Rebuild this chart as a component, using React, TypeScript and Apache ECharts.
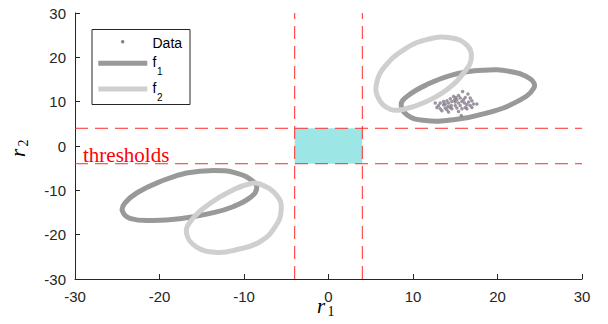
import React, { useEffect, useRef } from 'react';
import * as echarts from 'echarts';

const axisMin = -30;
const axisMax = 30;
const axisInterval = 10;
const thresholdValues = [-4, 4];

const f1LowerCurve = [
  [-13.6, -5.5], [-10.9, -6.1], [-8.9, -8.0], [-8.5, -9.6], [-9.1, -11.4], [-11.3, -13.7],
  [-14.0, -15.2], [-17.2, -16.3], [-20.7, -16.8], [-23.5, -16.3], [-24.4, -14.6], [-24.1, -12.9],
  [-22.7, -10.6], [-19.9, -8.0], [-16.8, -6.1],
];
const f2LowerCurve = [
  [-8.1, -8.6], [-6.1, -11.2], [-5.6, -14.4], [-6.3, -18.2], [-8.1, -21.6], [-10.9, -23.4],
  [-13.2, -24.0], [-15.6, -22.8], [-16.8, -19.7], [-16.2, -16.7], [-14.0, -12.9], [-11.3, -9.9],
  [-9.3, -8.5],
];
const f1UpperCurve = [
  [14.8, 5.9], [18.7, 7.4], [22.3, 10.0], [24.3, 13.1], [23.9, 15.1], [21.5, 16.8],
  [18.3, 17.1], [14.8, 16.1], [11.6, 13.8], [9.3, 11.2], [8.6, 9.3], [9.3, 7.0], [11.2, 5.8],
];
const f2UpperCurve = [
  [14.4, 24.4], [16.4, 22.7], [16.9, 19.8], [16.0, 16.5], [14.0, 12.7], [11.2, 9.7],
  [8.9, 8.3], [7.3, 8.3], [5.9, 10.8], [5.7, 14.2], [6.7, 18.0], [8.9, 21.7], [11.6, 24.0],
];
const dataPoints = [
  [15.87, 12.31], [16.5, 11.71], [14.8, 11.19], [15.39, 11.41], [16.18, 10.96], [16.77, 10.81],
  [16.97, 10.21], [15.19, 10.43], [15.59, 10.81], [14.41, 10.66], [14.01, 10.21], [13.62, 10.06],
  [13.22, 9.68], [12.63, 9.68], [13.02, 9.15], [13.62, 9.3], [14.21, 9.68], [14.6, 10.06],
  [15.0, 9.91], [15.39, 9.68], [15.79, 10.06], [16.1, 9.68], [16.38, 9.3], [16.58, 9.91],
  [17.17, 9.45], [17.56, 9.45], [16.97, 8.7], [16.18, 8.7], [15.59, 9.15], [15.0, 9.15],
  [14.52, 9.15], [14.13, 8.93], [13.81, 8.55], [13.22, 8.4], [12.83, 8.7], [13.42, 7.95],
  [14.01, 8.17], [14.6, 8.4], [15.19, 8.55], [15.79, 8.4], [16.38, 8.4], [15.39, 7.8],
  [14.21, 7.65], [15.71, 6.89], [14.92, 10.43], [13.81, 9.45], [14.41, 8.7], [15.98, 10.43],
  [16.77, 9.15], [15.08, 10.96],
];

const F1_COLOR = '#999999';
const F2_COLOR = '#cfcfcf';
const DATA_COLOR = '#857a8a';
const RED = '#ff2a2a';
const AXIS_COLOR = '#262626';

export default function App() {
  const ref = useRef<HTMLDivElement>(null);
  useEffect(() => {
    const chart = echarts.init(ref.current!, null, { renderer: 'svg' });
    const [tLow, tHigh] = thresholdValues;

    const axisCommon = {
      type: 'value',
      min: axisMin,
      max: axisMax,
      interval: axisInterval,
      splitLine: { show: false },
      axisLine: { show: true, onZero: false, lineStyle: { color: AXIS_COLOR, width: 1 } },
      axisTick: { show: true, inside: true, length: 5, lineStyle: { color: AXIS_COLOR } },
      axisLabel: { color: AXIS_COLOR, fontSize: 15, fontFamily: 'Liberation Sans' },
    };

    // closed smooth loop drawn through the axes' coordinate system
    const curveSeries = (pts: number[][], color: string, z: number) => ({
      type: 'custom',
      silent: true,
      z,
      data: pts,
      encode: { x: 0, y: 1 },
      renderItem: (params: any, api: any) => {
        if (params.dataIndex !== 0) return null;
        const points = pts.map((p) => api.coord(p));
        return {
          type: 'polygon',
          shape: { points, smooth: 0.45 },
          style: { fill: 'none', stroke: color, lineWidth: 5 },
        };
      },
    });

    const dashLine = (pts: number[][]) => ({
      type: 'line',
      data: pts,
      showSymbol: false,
      symbol: 'none',
      lineStyle: { color: RED, width: 1, type: [13, 7] },
      silent: true,
      z: 5,
    });

    chart.setOption({
      animation: false,
      backgroundColor: '#ffffff',
      grid: { left: 75, right: 26, top: 13, bottom: 45, containLabel: false },
      xAxis: { ...axisCommon, axisLabel: { ...axisCommon.axisLabel, margin: 10 } },
      yAxis: { ...axisCommon, axisLabel: { ...axisCommon.axisLabel, margin: 9 } },
      series: [
        {
          type: 'custom',
          silent: true,
          z: 1,
          data: [[tLow, tLow, tHigh, tHigh]],
          encode: { x: [0, 2], y: [1, 3] },
          renderItem: (params: any, api: any) => {
            const p1 = api.coord([api.value(0), api.value(1)]);
            const p2 = api.coord([api.value(2), api.value(3)]);
            return {
              type: 'rect',
              shape: { x: p1[0], y: p2[1], width: p2[0] - p1[0], height: p1[1] - p2[1] },
              style: { fill: '#9de6e6' },
            };
          },
        },
        dashLine([[tLow, axisMin], [tLow, axisMax]]),
        dashLine([[tHigh, axisMin], [tHigh, axisMax]]),
        dashLine([[axisMin, tLow], [axisMax, tLow]]),
        dashLine([[axisMin, tHigh], [axisMax, tHigh]]),
        curveSeries(f1LowerCurve, F1_COLOR, 6),
        curveSeries(f1UpperCurve, F1_COLOR, 6),
        curveSeries(f2LowerCurve, F2_COLOR, 7),
        curveSeries(f2UpperCurve, F2_COLOR, 7),
        {
          type: 'scatter',
          data: dataPoints,
          symbolSize: 3.5,
          itemStyle: { color: DATA_COLOR },
          silent: true,
          z: 8,
        },
      ],
      graphic: [
        {
          type: 'text',
          left: 83,
          top: 144,
          style: { text: 'thresholds', fill: '#ff0000', font: '21px "Liberation Serif"' },
          z: 10,
        },
        {
          type: 'rect',
          shape: { x: 92, y: 29.5, width: 98, height: 75 },
          style: { fill: '#ffffff', stroke: AXIS_COLOR, lineWidth: 1 },
          z: 20,
        },
        {
          type: 'circle',
          shape: { cx: 122.7, cy: 41.7, r: 1.7 },
          style: { fill: DATA_COLOR },
          z: 21,
        },
        {
          type: 'text',
          x: 152.5, y: 42.5,
          style: { text: 'Data', fill: '#000', font: '14px "Liberation Sans"', verticalAlign: 'middle' },
          z: 21,
        },
        {
          type: 'line',
          shape: { x1: 98.3, y1: 63.3, x2: 147.3, y2: 63.3 },
          style: { stroke: F1_COLOR, lineWidth: 5 },
          z: 21,
        },
        {
          type: 'text',
          x: 152.5, y: 61.5,
          style: { text: 'f', fill: '#000', font: '14px "Liberation Sans"', verticalAlign: 'middle' },
          z: 21,
        },
        {
          type: 'text',
          x: 157, y: 71,
          style: { text: '1', fill: '#000', font: '10px "Liberation Sans"', verticalAlign: 'middle' },
          z: 21,
        },
        {
          type: 'line',
          shape: { x1: 98.3, y1: 89, x2: 147.3, y2: 89 },
          style: { stroke: F2_COLOR, lineWidth: 5 },
          z: 21,
        },
        {
          type: 'text',
          x: 152.5, y: 87.5,
          style: { text: 'f', fill: '#000', font: '14px "Liberation Sans"', verticalAlign: 'middle' },
          z: 21,
        },
        {
          type: 'text',
          x: 157, y: 97,
          style: { text: '2', fill: '#000', font: '10px "Liberation Sans"', verticalAlign: 'middle' },
          z: 21,
        },
        {
          type: 'text',
          x: 317, y: 306,
          style: { text: 'r', fill: '#000', font: 'italic 21px "Liberation Serif"', verticalAlign: 'middle' },
          z: 21,
        },
        {
          type: 'text',
          x: 327.5, y: 311.5,
          style: { text: '1', fill: '#000', font: '14px "Liberation Serif"', verticalAlign: 'middle' },
          z: 21,
        },
        {
          type: 'group',
          x: 18, y: 157,
          rotation: Math.PI / 2,
          children: [
            {
              type: 'text',
              x: 0, y: 0,
              style: { text: 'r', fill: '#000', font: 'italic 21px "Liberation Serif"', verticalAlign: 'middle' },
            },
            {
              type: 'text',
              x: 10.5, y: 5.5,
              style: { text: '2', fill: '#000', font: '14px "Liberation Serif"', verticalAlign: 'middle' },
            },
          ],
          z: 21,
        },
      ],
    });
    return () => chart.dispose();
  }, []);
  return (
    <div
      ref={ref}
      style={{ position: 'fixed', left: 0, top: 0, width: 608, height: 324, background: '#fff' }}
    />
  );
}
